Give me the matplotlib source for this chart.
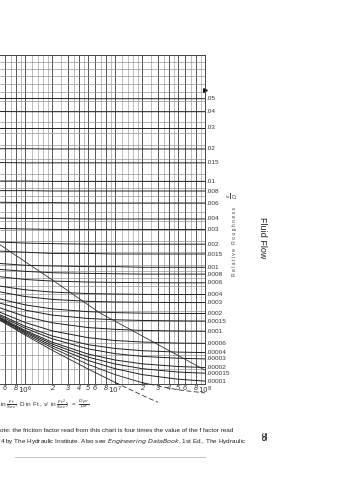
import matplotlib
matplotlib.use("Agg")
import matplotlib.pyplot as plt

plt.rcParams['font.family'] = ['Liberation Sans', 'DejaVu Sans']

# Reynolds numbers at which the curves were read
re_pts = [5e5, 1e6, 2e6, 5e6, 1e7, 2e7, 5e7, 1e8]

# relative roughness labels (right side) and friction factor
rough_labels = [".05", ".04", ".03", ".02", ".015", ".01", ".008", ".006", ".004",
                ".003", ".002", ".0015", ".001", ".0008", ".0006", ".0004", ".0003",
                ".0002", ".00015", ".0001", ".00006", ".00004", ".00003", ".00002",
                ".000015", ".00001"]
f_05 = [0.0716, 0.0716, 0.0716, 0.0715, 0.0715, 0.0715, 0.0715, 0.0715]
f_04 = [0.0648, 0.0647, 0.0647, 0.0647, 0.0647, 0.0647, 0.0647, 0.0647]
f_03 = [0.0572, 0.0572, 0.0572, 0.0572, 0.0572, 0.0572, 0.0572, 0.0572]
f_02 = [0.0487, 0.0487, 0.0486, 0.0486, 0.0486, 0.0486, 0.0486, 0.0486]
f_015 = [0.0438, 0.0437, 0.0437, 0.0437, 0.0437, 0.0437, 0.0437, 0.0437]
f_01 = [0.0380, 0.0380, 0.0379, 0.0379, 0.0379, 0.0379, 0.0379, 0.0379]
f_008 = [0.0353, 0.0353, 0.0352, 0.0352, 0.0352, 0.0352, 0.0352, 0.0352]
f_006 = [0.0323, 0.0322, 0.0322, 0.0321, 0.0321, 0.0321, 0.0321, 0.0321]
f_004 = [0.0286, 0.0285, 0.0285, 0.0284, 0.0284, 0.0284, 0.0284, 0.0284]
f_003 = [0.0264, 0.0263, 0.0262, 0.0262, 0.0262, 0.0262, 0.0262, 0.0262]
f_002 = [0.0238, 0.0236, 0.0235, 0.0234, 0.0234, 0.0234, 0.0234, 0.0234]
f_0015 = [0.0222, 0.0220, 0.0218, 0.0218, 0.0217, 0.0217, 0.0217, 0.0217]
f_001 = [0.0202, 0.0199, 0.0198, 0.0197, 0.0197, 0.0196, 0.0196, 0.0196]
f_0008 = [0.0193, 0.0190, 0.0188, 0.0187, 0.01865, 0.0186, 0.0186, 0.0186]
f_0006 = [0.01826, 0.01785, 0.01763, 0.0175, 0.01745, 0.01742, 0.0174, 0.0174]
f_0004 = [0.0170, 0.01649, 0.0162, 0.01602, 0.01596, 0.01592, 0.0159, 0.0159]
f_0003 = [0.01627, 0.01566, 0.01532, 0.01509, 0.01502, 0.01498, 0.01495, 0.01495]
f_0002 = [0.01543, 0.01469, 0.01424, 0.01394, 0.01384, 0.01378, 0.01375, 0.01374]
f_00015 = [0.01495, 0.01411, 0.01358, 0.01323, 0.0131, 0.01303, 0.01299, 0.01297]
f_0001 = [0.01443, 0.01344, 0.0128, 0.01234, 0.01217, 0.01207, 0.01202, 0.0120]
f_00006 = [0.01397, 0.01283, 0.01203, 0.01142, 0.01117, 0.01104, 0.01095, 0.01093]
f_00004 = [0.01372, 0.01247, 0.01157, 0.01082, 0.01051, 0.01033, 0.01022, 0.01018]
f_00003 = [0.01359, 0.01229, 0.01132, 0.01048, 0.0101, 0.00989, 0.00975, 0.0097]
f_00002 = [0.01345, 0.01208, 0.01103, 0.01007, 0.00962, 0.00934, 0.00915, 0.00908]
f_000015 = [0.01337, 0.01198, 0.01088, 0.00984, 0.00933, 0.0090, 0.00877, 0.00869]
f_00001 = [0.0133, 0.01187, 0.01072, 0.00959, 0.009, 0.0086, 0.0083, 0.00818]
f_curves = [f_05, f_04, f_03, f_02, f_015, f_01, f_008, f_006, f_004, f_003, f_002,
            f_0015, f_001, f_0008, f_0006, f_0004, f_0003, f_0002, f_00015, f_0001,
            f_00006, f_00004, f_00003, f_00002, f_000015, f_00001]

# curves running out through the bottom of the chart
re_smooth = [5e5, 1e6, 2e6, 5e6, 1e7, 2e7, 3e7]
f_smooth = [0.01316, 0.01165, 0.01037, 0.00898, 0.0081, 0.00734, 0.00695]
f_000005 = [0.0132, 0.01176, 0.01056, 0.0093, 0.0086, 0.00808, 0.00765, 0.00747]

# boundary line of complete turbulence
re_bound = [5.27e5, 2e6, 6.8e6, 1e8]
f_bound = [0.0233, 0.0178, 0.0138, 0.0089]

# grid
grid_mult = [1, 1.2, 1.4, 1.6, 1.8, 2, 2.5, 3, 3.5, 4, 4.5, 5, 6, 7, 8, 9]
grid_f = [0.008, 0.009, 0.010, 0.011, 0.012, 0.013, 0.014, 0.015, 0.016, 0.017,
          0.018, 0.019, 0.020, 0.022, 0.024, 0.026, 0.028, 0.030, 0.032, 0.034,
          0.036, 0.038, 0.040, 0.045, 0.050, 0.055, 0.060, 0.065, 0.070, 0.075,
          0.080, 0.085, 0.090, 0.095, 0.1]

xtick_pos = [6e5, 8e5, 1e6, 2e6, 3e6, 4e6, 5e6, 6e6, 8e6, 1e7,
             2e7, 3e7, 4e7, 5e7, 6e7, 8e7, 1e8]
xtick_lab = ["6", "8", r"$\it{10}^{6}$", "2", "3", "4", "5", "6", "8", r"$\it{10}^{7}$",
             "2", "3", "4", "5", "6", "8", r"$\it{10}^{8}$"]

W, H = 356, 480
fig = plt.figure(figsize=(W / 100, H / 100), dpi=100)
ax = fig.add_axes([0, 96 / H, 205 / W, 329 / H])
ax.set_xscale("log")
ax.set_yscale("log")
ax.set_xlim(5.27e5, 1e8)
ax.set_ylim(0.008, 0.1)

for dec in [1e5, 1e6, 1e7]:
    for m in grid_mult:
        major = m in (1, 2, 3, 4, 5, 6, 8)
        ax.axvline(m * dec, color="#555555" if major else "#999999",
                   lw=0.7 if major else 0.45, zorder=1)
for fv in grid_f:
    ax.axhline(fv, color="#8a8a8a", lw=0.45, zorder=1)

for lab, fc in zip(rough_labels, f_curves):
    ax.plot(re_pts, fc, color="#222222", lw=0.7, zorder=3)
    ax.text(1.04e8, fc[-1], lab, fontsize=4.6, va="center", ha="left",
            color="#333333", clip_on=False)

ax.plot(re_smooth, f_smooth, color="#222222", lw=0.6, zorder=3)
ax.plot(re_pts, f_000005, color="#222222", lw=0.6, zorder=3)
ax.plot(re_smooth[4:], f_smooth[4:], color="#333333", lw=0.6,
        ls=(0, (6, 3)), clip_on=False, zorder=3)
ax.plot(re_pts[5:], f_000005[5:], color="#333333", lw=0.6,
        ls=(0, (6, 3)), clip_on=False, zorder=3)
ax.plot(re_bound, f_bound, color="#333333", lw=0.6, zorder=3)
ax.plot([1e8], [0.0765], marker=">", ms=2.5, color="black", clip_on=False)

ax.set_xticks(xtick_pos)
ax.set_xticklabels(xtick_lab, fontsize=5.2, style="italic", color="#333333")
ax.xaxis.set_minor_locator(matplotlib.ticker.NullLocator())
ax.yaxis.set_major_locator(matplotlib.ticker.NullLocator())
ax.yaxis.set_minor_locator(matplotlib.ticker.NullLocator())
ax.tick_params(axis="x", length=0, pad=0.5)
ax.spines["left"].set_visible(False)
for s in ["top", "right", "bottom"]:
    ax.spines[s].set_color("#444444")
    ax.spines[s].set_linewidth(0.7)


def px(x, y):
    return x / W, 1 - y / H


fig.text(*px(0, 405), r"in $\frac{Ft}{Sec}$, D in Ft., $\nu'$ in $\frac{Ft^2}{Sec}$)  =  $\frac{D\rho v}{\mu e}$",
         fontsize=4.6, va="center", ha="left", color="#333333")
fig.text(*px(0, 430), "ote: the friction factor read from this chart is four times the value of the f factor read",
         fontsize=4.55, va="center", ha="left", color="#222222")
fig.text(*px(0, 442), "4 by The Hydraulic Institute. Also see $\\it{Engineering\\ DataBook}$, 1st Ed., The Hydraulic",
         fontsize=4.55, va="center", ha="left", color="#222222")
fig.add_artist(plt.Line2D([15 / W, 205 / W], [1 - 457 / H] * 2, color="#bbbbbb", lw=0.6))

fig.text(*px(233, 196), r"$\frac{\epsilon}{D}$", fontsize=5.5, rotation=90,
         va="center", ha="center", color="#444444")
fig.text(*px(234, 241), "R e l a t i v e   R o u g h n e s s", fontsize=3.6, rotation=90,
         va="center", ha="center", color="#444444")
fig.text(*px(262, 238), "Fluid Flow", fontsize=6.5, rotation=270,
         va="center", ha="center", color="#222222")
fig.text(*px(262, 437), "55", fontsize=6, rotation=270, fontweight="bold",
         va="center", ha="center", color="#222222")

fig.savefig("out.png", dpi=100)
